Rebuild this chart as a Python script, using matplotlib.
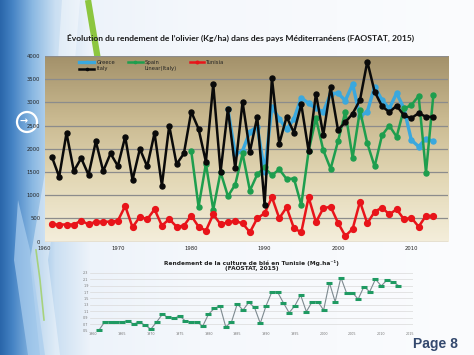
import numpy as np
import matplotlib
matplotlib.use("Agg")
import matplotlib.pyplot as plt
from matplotlib.colors import LinearSegmentedColormap, to_rgb
from matplotlib.lines import Line2D
from matplotlib.patches import Circle, Polygon

# --------------------------------------------------------------------------- #
# Data
# --------------------------------------------------------------------------- #
years = list(range(1961, 2014))
italy = [1830, 1400, 2340, 1520, 1800, 1440, 2160, 1520, 1900, 1630,
         2260, 1330, 2000, 1620, 2340, 1210, 2500, 1670, 1900, 2800,
         2430, 1720, 3390, 1500, 2860, 1580, 3010, 1940, 2690, 800,
         3520, 2110, 2690, 2350, 2960, 1950, 3190, 2300, 3330, 2410,
         2570, 2760, 3050, 3880, 3230, 2920, 2790, 2930, 2720, 2660,
         2770, 2690, 2690]
tunisia = [374, 370, 370, 370, 452, 374, 431, 431, 431, 452,
           769, 310, 539, 482, 698, 345, 489, 323, 345, 560,
           323, 237, 590, 374, 418, 446, 395, 203, 504, 612,
           957, 504, 741, 289, 203, 957, 418, 720, 754, 410,
           123, 274, 862, 395, 647, 733, 590, 698, 482, 517,
           323, 560, 550]
spain_years = list(range(1980, 2014))
spain = [1960, 750, 1680, 690, 1500, 980, 1230, 1900, 1100, 1450,
         1600, 1430, 1560, 1350, 1360, 790, 1950, 2660, 1970, 1570,
         2160, 2800, 1810, 2830, 2120, 1620, 2290, 2500, 2260, 2870,
         2940, 3140, 1490, 3150]
greece_years = list(range(1985, 2014))
greece = [2850, 1880, 1960, 2370, 2480, 1510, 2900, 2650, 2420, 2650,
          3100, 2980, 2870, 2800, 3190, 3200, 3040, 3390, 2700, 2800,
          3340, 3050, 2870, 3200, 2870, 2190, 2050, 2220, 2160]

wheat_years = list(range(1961, 2014))
wheat = [0.52, 0.78, 0.78, 0.77, 0.78, 0.80, 0.71, 0.77, 0.67, 0.55,
         0.77, 1.01, 0.91, 0.88, 0.96, 0.80, 0.77, 0.77, 0.64, 1.01,
         1.19, 1.27, 0.62, 0.77, 1.33, 1.14, 1.38, 1.22, 0.73, 1.27,
         1.70, 1.70, 1.37, 1.06, 1.27, 1.61, 1.09, 1.40, 1.40, 1.14,
         1.99, 1.40, 2.15, 1.66, 1.68, 1.48, 1.87, 1.71, 2.10, 1.89,
         2.07, 2.02, 1.90]

title = ("Évolution du rendement de l’olivier (Kg/ha) dans des pays "
         "Méditerranéens (FAOSTAT, 2015)")
wheat_title = ("Rendement de la culture de blé en Tunisie (Mg.ha⁻¹)\n"
               "(FAOSTAT, 2015)")

W, H = 474, 355
fig = plt.figure(figsize=(W / 100, H / 100), dpi=100)

# --------------------------------------------------------------------------- #
# Slide background
# --------------------------------------------------------------------------- #
bg = fig.add_axes([0, 0, 1, 1], zorder=-10)
bg.set_xlim(0, W); bg.set_ylim(H, 0); bg.axis("off")
stops = [(0, "#2a66aa"), (12, "#4583c4"), (32, "#8ab8e2"), (55, "#cadff2"),
         (90, "#edf3fa"), (200, "#f5f8fc"), (474, "#fbfcfe")]
xs = np.arange(W)
cols = np.array([to_rgb(c) for _, c in stops])
img = np.stack([np.interp(xs, [s for s, _ in stops], cols[:, k])
                for k in range(3)], axis=-1)
img = np.repeat(img[None, :, :], H, axis=0)
bg.imshow(img, extent=(0, W, H, 0), aspect="auto")
# curved bands on the left
bg.add_patch(Polygon([(62, 0), (80, 0), (70, 120), (48, 260), (60, 355),
                      (40, 355), (30, 260), (54, 120)],
                     closed=True, fc="#ffffff", alpha=0.4, lw=0))
bg.add_patch(Polygon([(18, 200), (30, 250), (45, 355), (28, 355), (14, 260)],
                     closed=True, fc="#a9cdee", alpha=0.7, lw=0))
bg.plot([88, 93, 98], [0, 30, 60], color="#8cc63f", lw=4.5,
        solid_capstyle="butt")
bg.plot([36, 40, 44], [250, 280, 320], color="#9fd060", lw=1.2, alpha=0.8)
bg.add_patch(Circle((27, 122), 10, fc="none", ec="white", lw=1.6))
bg.text(24, 121, "→", color="white", fontsize=7, ha="center", va="center",
        fontweight="bold")
bg.text(458, 344, "Page 8", color="#34496e", fontsize=10,
        fontweight="bold", family="Liberation Sans", ha="right",
        va="center")

# --------------------------------------------------------------------------- #
# Main chart
# --------------------------------------------------------------------------- #
ax = fig.add_axes([44.5 / W, 1 - 241.7 / H, 403.5 / W, 185.7 / H])
grad = LinearSegmentedColormap.from_list(
    "plot", ["#f4eedb", "#e3d8b6", "#c9b990", "#a3916a"])
ax.imshow(np.linspace(0, 1, 256)[:, None], cmap=grad, origin="lower",
          extent=(1960, 2015, 0, 4000), aspect="auto", zorder=0)
ax.set_xlim(1960, 2015)
ax.set_ylim(0, 4000)
ax.set_yticks(range(0, 4001, 500))
ax.set_xticks(range(1960, 2011, 10))
ax.yaxis.grid(True, color="#8c8c8c", lw=0.9)
ax.set_axisbelow(False)
for g in ax.get_ygridlines():
    g.set_zorder(1)
for s in ax.spines.values():
    s.set_visible(False)
ax.tick_params(length=0, labelsize=3.8, colors="#222222", pad=3)

mk = dict(marker="o", lw=1.8, ms=3.6, zorder=3)
ax.plot(greece_years, greece, color="#3aa8de", label="Greece",
        **{**mk, "lw": 2.4})
ax.plot(spain_years, spain, color="#1e9e4e", label="Spain", **mk)
ax.plot(years, tunisia, color="#e8141a", label="Tunisia",
        **{**mk, "ms": 4.2})
ax.plot(years, italy, color="#0a0a0a", label="Italy", **mk)

h = {l.get_label(): l for l in ax.get_lines()}
lin = Line2D([], [], color="none", label="Linear(Italy)")
leg = ax.legend([h["Greece"], h["Italy"], h["Spain"], lin, h["Tunisia"]],
                ["Greece", "Italy", "Spain", "Linear(Italy)", "Tunisia"],
                ncol=3, loc="upper left", bbox_to_anchor=(0.08, 0.995),
                frameon=False, fontsize=3.8, handlelength=2.8,
                columnspacing=2.4, handletextpad=0.4, labelspacing=0.35,
                borderpad=0, markerscale=0.45)
for t in leg.get_texts():
    t.set_color("#222222")

fig.text(241 / W, 1 - 38 / H, title, ha="center", va="center",
         fontsize=6.1, fontweight="bold", family="Lato", color="#1a1a1a")

# --------------------------------------------------------------------------- #
# Small wheat chart
# --------------------------------------------------------------------------- #
ax2 = fig.add_axes([90 / W, 1 - 330.7 / H, 323 / W, 58 / H])
ax2.patch.set_alpha(0)
ax2.set_xlim(1959.43, 2015.52)
ax2.set_ylim(0.5, 2.3)
ax2.set_yticks(np.arange(0.5, 2.31, 0.2))
ax2.set_xticks(range(1960, 2016, 5))
ax2.yaxis.grid(True, color="#dadada", lw=0.5)
for s in ax2.spines.values():
    s.set_visible(False)
ax2.tick_params(length=0, labelsize=2.4, colors="#777777", pad=1)
ax2.plot(wheat_years, wheat, color="#7d8a90", lw=0.8, marker="_", ms=4.5,
         mew=2.2, mec="#1f9a62", zorder=3)
ax2.set_title(wheat_title, fontsize=4.2, fontweight="bold", pad=2,
              linespacing=0.9, color="#222222")

fig.savefig("out.png", dpi=100)
